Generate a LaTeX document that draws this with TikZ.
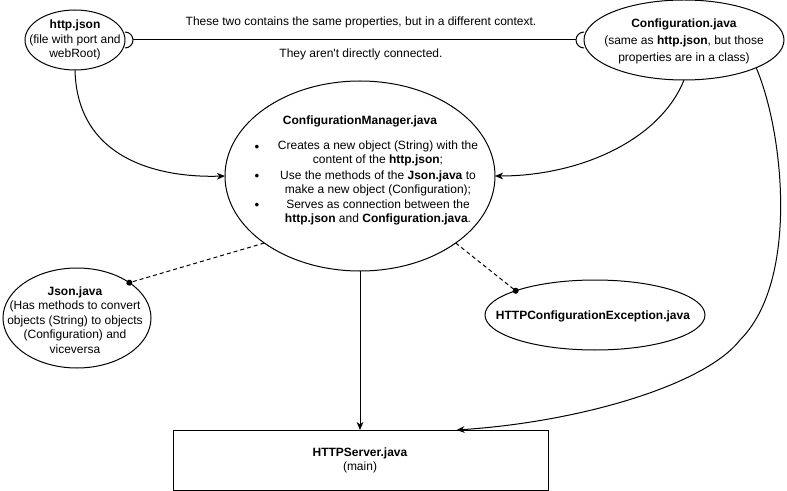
\documentclass[tikz,border=0pt]{standalone}
\usepackage{fontspec}
\setmainfont{Liberation Sans}[Ligatures=TeXOff]
\usetikzlibrary{arrows.meta,shapes.geometric,calc}

\tikzset{every picture/.style={line width=0.75pt}}
\tikzset{
  oval/.style={draw, ellipse, inner sep=0pt, outer sep=0pt},
  box/.style={draw, rectangle, inner sep=0pt, outer sep=0pt},
  txt/.style={inner sep=0.75pt, align=center, font=\fontsize{9}{10.8}\selectfont},
  bul/.style={inner sep=0pt, font=\fontsize{10}{10}\selectfont},
  flow/.style={-{Stealth[length=6pt,width=5pt,inset=1.8pt]}},
  assoc/.style={dash pattern=on 3pt off 2.25pt, -{Circle[length=4.5pt]}, shorten >=-2.25pt},
}

\begin{document}
\begin{tikzpicture}[x=0.75pt,y=0.75pt,yscale=-1,xscale=1]
\useasboundingbox (0,0) rectangle (787,491);

%Shape: Ellipse [http.json]
\node[oval, minimum width=75pt, minimum height=45pt] (httpjson) at (75,40) {};
%Shape: Ellipse [Configuration.java]
\node[oval, minimum width=150pt, minimum height=60pt] (config) at (684,40) {};
%Shape: Ellipse [ConfigurationManager.java]
\node[oval, minimum width=202.5pt, minimum height=142.5pt] (manager) at (360,176) {};
%Shape: Ellipse [Json.java]
\node[oval, minimum width=111pt, minimum height=75pt] (jsonj) at (77,318) {};
%Shape: Ellipse [HTTPConfigurationException.java]
\node[oval, minimum width=165pt, minimum height=52.5pt] (except) at (595,315) {};
%Shape: Rectangle [HTTPServer.java]
\node[box, minimum width=281.25pt, minimum height=45pt] (server) at (360.5,460) {};

%Socket Lines
\draw ($(httpjson.east)+(0,-8)$) arc (-90:90:8);
\draw ($(httpjson.east)+(8,0)$) -- ($(config.west)+(-8,0)$);
\draw ($(config.west)+(0,-8)$) arc (-90:-270:8);

%Curve Lines
\draw[flow] (httpjson.south) .. controls (77,160) and (160,178) .. (manager.west);
\draw[flow] (config.south) .. controls (660,140) and (580,176) .. (manager.east);
\draw[flow] (config.-21) .. controls (783,130) and (800,280) .. (740,340) .. controls (705,385) and (580,422) .. ([xshift=72pt]server.north);
%Straight Lines
\draw[flow] (manager.south) -- (manager.south |- server.north);
%Dashed Lines
\draw[assoc] (manager.-145) -- (jsonj.34);
\draw[assoc] (manager.-35) -- (except.163);

% Text Node
\node[txt] (httpjsontxt) at (75,40) {\textbf{http.json}\\(file with port and\\webRoot)};
% Text Node
\node[txt, font=\fontsize{9}{12.75}\selectfont] (configtxt) at (684,41) {\textbf{Configuration.java}\\(same as \textbf{http.json}, but those\\properties are in a class)};
% Text Node
\node[txt] (samelbl) at (361,22) {These two contains the same properties, but in a different context.};
% Text Node
\node[txt] (notlbl) at (361,54) {They aren't directly connected.};
% Text Node
\node[txt] (mgrtitle) at (360,121) {\textbf{ConfigurationManager.java}};
% Text Node
\node[bul] (bul1) at (257,148) {•};
\node[txt] (item1) at (378,153.5) {Creates a new object (String) with the\\content of the \textbf{http.json};};
% Text Node
\node[bul] (bul2) at (257,177) {•};
\node[txt] (item2) at (378,183.5) {Use the methods of the \textbf{Json.java} to\\make a new object (Configuration);};
% Text Node
\node[bul] (bul3) at (257,206) {•};
\node[txt] (item3) at (378,212.5) {Serves as connection between the\\\textbf{http.json} and \textbf{Configuration.java}.};
% Text Node
\node[txt] (jsontxt) at (75,320) {\textbf{Json.java}\\(Has methods to convert\\objects (String) to objects\\(Configuration) and\\viceversa};
% Text Node
\node[txt] (excepttxt) at (593,316) {\textbf{HTTPConfigurationException.java}};
% Text Node
\node[txt] (servertxt) at (360,460.5) {\textbf{HTTPServer.java}\\(main)};

\end{tikzpicture}
\end{document}
